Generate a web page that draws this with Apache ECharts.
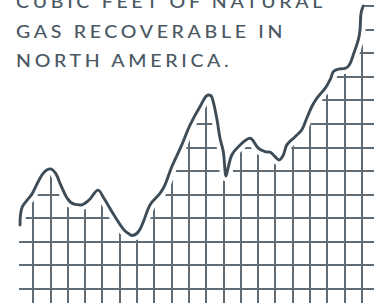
<!DOCTYPE html>
<html><head><meta charset="utf-8">
<script src="https://cdn.jsdelivr.net/npm/echarts@6/dist/echarts.min.js"></script>
<style>
html,body{margin:0;padding:0;background:#fff}
#c{width:378px;height:307px}
#c text{letter-spacing:3.2px}
</style>
</head><body><div id="c"></div><script>
// Title text
const titleLines = ['CUBIC FEET OF NATURAL', 'GAS RECOVERABLE IN', 'NORTH AMERICA.'];

// Grid size in cells (columns between vertical rules, rows between horizontal rules)
const gridColumns = 19;
const gridRows = 12;

// Line values, in grid-cell units (x: column position, y: row height)
const xValues = [-0.75, -0.72, -0.62, -0.33, -0.04, 0.35, 0.64, 0.98, 1.31, 1.60, 1.98, 2.37, 2.76, 3.24, 3.76, 4.10, 4.68, 5.26, 5.65, 5.72, 6.09, 6.38, 6.76, 7.34, 7.63, 8.02, 8.60, 9.08, 9.65, 10.13, 10.33, 10.62, 10.81, 11.00, 11.16, 11.29, 11.49, 11.87, 12.54, 13.02, 13.41, 13.70, 13.99, 14.22, 14.47, 14.67, 15.15, 15.53, 15.82, 16.11, 16.40, 16.88, 17.21, 17.36, 17.65, 18.04, 18.28, 18.51, 18.80, 18.90, 18.96, 19.09];
const yValues = [2.70, 3.16, 3.47, 3.76, 4.04, 4.61, 4.94, 5.08, 4.89, 4.40, 3.83, 3.58, 3.55, 3.76, 4.18, 3.83, 3.12, 2.49, 2.27, 2.25, 2.41, 2.84, 3.55, 4.04, 4.40, 5.17, 6.10, 6.95, 7.72, 8.22, 8.15, 7.23, 6.38, 5.81, 4.78, 5.17, 5.67, 6.02, 6.38, 5.96, 5.81, 5.79, 5.60, 5.46, 5.67, 6.10, 6.45, 6.73, 7.23, 7.72, 8.08, 8.50, 8.93, 9.21, 9.32, 9.35, 9.49, 9.92, 10.56, 10.98, 11.69, 12.00];

const ink = '#3e4c57';
const rule = '#5f6c76';
const lineData = xValues.map((x, i) => [x, yValues[i]]);
// the white mask reaches a little left of the first point so no rule stubs show there
const maskData = [[-0.95, yValues[0]]].concat(lineData);

const chart = echarts.init(document.getElementById('c'), null, {renderer: 'svg'});
const hidden = {show: false};
chart.setOption({
  animation: false,
  backgroundColor: '#fff',
  graphic: titleLines.map((t, i) => ({
    type: 'text', x: 16, y: 1.9 + i * 29.5, scaleX: 1.15, z: 100, silent: true,
    style: {text: t, fill: '#4a5863', font: '500 17px Lato', align: 'left', verticalAlign: 'middle'}
  })),
  grid: [
    {left: 19, right: 4, top: 6, bottom: 18.5},
    {left: 33, right: 16.3, top: 6, bottom: 4}
  ],
  xAxis: [
    {gridIndex: 0, type: 'value', min: -0.81, max: 19.71, axisLine: hidden, axisTick: hidden, axisLabel: hidden, splitLine: hidden},
    {gridIndex: 1, type: 'value', min: 0, max: gridColumns, interval: 1, axisLine: hidden, axisTick: hidden, axisLabel: hidden,
     splitLine: {show: true, lineStyle: {color: rule, width: 2}}}
  ],
  yAxis: [
    {gridIndex: 0, type: 'value', min: 0, max: gridRows, interval: 1, axisLine: hidden, axisTick: hidden, axisLabel: hidden,
     splitLine: {show: true, lineStyle: {color: rule, width: 2}}},
    {gridIndex: 1, type: 'value', min: 0, max: 1, axisLine: hidden, axisTick: hidden, axisLabel: hidden, splitLine: hidden}
  ],
  series: [
    {
      type: 'line', xAxisIndex: 0, yAxisIndex: 0, data: maskData, smooth: 0.35, symbol: 'none', silent: true, clip: false,
      lineStyle: {color: '#fff', width: 11},
      areaStyle: {color: '#fff', opacity: 1, origin: 12.6}
    },
    {
      type: 'line', xAxisIndex: 0, yAxisIndex: 0, data: lineData, smooth: 0.35, symbol: 'none', silent: true, clip: false,
      lineStyle: {color: ink, width: 2.9, cap: 'round', join: 'round'}
    }
  ]
});
</script></body></html>
